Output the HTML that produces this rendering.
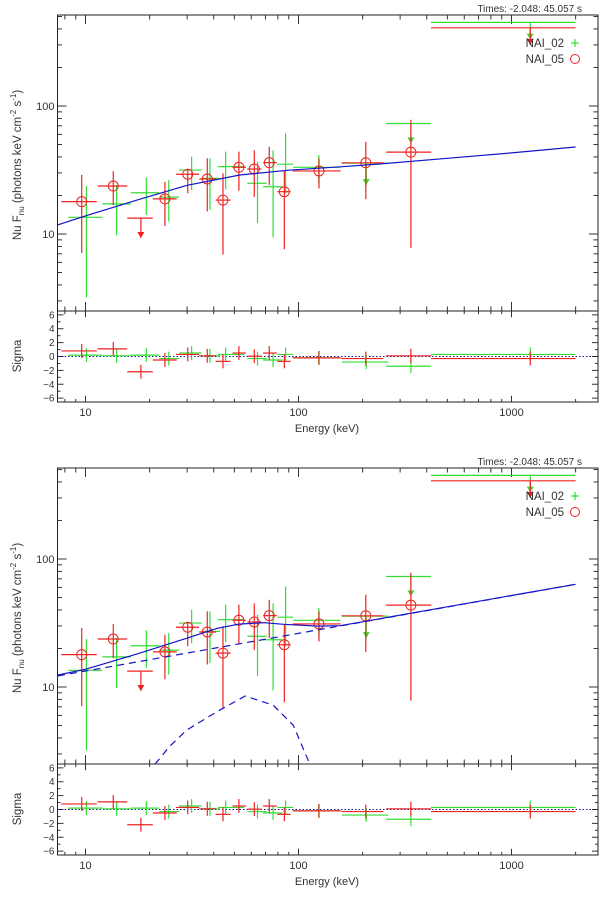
<!DOCTYPE html>
<html><head><meta charset="utf-8"><style>
body{margin:0;background:#fff;}
svg{display:block;font-family:"Liberation Sans",sans-serif;}
</style></head><body>
<svg id="chart" width="600" height="897" viewBox="0 0 600 897" xmlns="http://www.w3.org/2000/svg"></svg>
<script>
// ---- data (energies keV, fluxes photons keV cm^-2 s^-1) ----
const redE    = [9.6, 13.5, 23.6, 30.2, 37.3, 44.2, 52.5, 62, 72.9, 85.8, 124.8, 207, 337];
const redF    = [17.9, 23.7, 18.8, 29.3, 26.9, 18.4, 33.2, 32.2, 36.1, 21.4, 31.1, 36, 43.6];
const redFlo  = [7.1, 16.8, 11.5, 20.8, 15, 6.9, 21.8, 19.5, 24.1, 7.6, 22.7, 18.7, 7.8];
const redFhi  = [29, 31, 25.6, 32.2, 39, 29.8, 44, 45, 48, 31, 39, 52.6, 78];
const redElo  = [7.7, 11.4, 20.7, 26.6, 34.2, 40.8, 49, 57.5, 68.2, 79.5, 94, 159, 258];
const redEhi  = [11.3, 15.7, 26.8, 34.2, 41, 48, 56.7, 67, 79.1, 91.8, 158, 250, 420];
const redUL   = [[15.7, 20.7, 18.2, 13.3, 9.3], [419, 2000, 1225, 408, 300]];
const greenE   = [10.1, 14, 19.3, 24.6, 31.5, 38.4, 45.5, 64.2, 76, 87, 124.5];
const greenF   = [13.5, 17.2, 21, 19.4, 31.6, 27.2, 33.6, 24.9, 23.4, 35.1, 33.2];
const greenFlo = [3.2, 9.8, 14.1, 12.5, 22, 15.4, 22.3, 12.2, 9.4, 20.8, 24.9];
const greenFhi = [23.7, 24.2, 27.7, 26.4, 40.2, 39, 44, 36.7, 45, 61, 41.5];
const greenElo = [8.3, 12, 16.3, 22.2, 27.5, 35.1, 41.9, 57.5, 68.2, 79.5, 94.5];
const greenEhi = [12, 16.3, 22.2, 27.5, 35.1, 42.8, 55.6, 71, 84, 94.5, 157];
const greenUL  = [[160, 264, 208, 35.8, 24.1], [258, 420, 337, 73, 51], [419, 2000, 1225, 450, 330]];
const redRes   = [0.8, 1.1, -0.5, 0.3, 0.1, -0.7, 0.5, 0.05, 0.5, -0.7, -0.2, -0.3, 0.1];
const redResUL = [[15.7, 20.7, 18.2, -2.2], [419, 2000, 1225, -0.3]];
const greenRes = [0.2, 0.1, 0.2, -0.3, 0.5, 0.1, 0.3, -0.3, -0.5, 0.3, -0.2];
const greenResUL = [[160, 264, 208, -0.8], [258, 420, 337, -1.4], [419, 2000, 1225, 0.3]];
// model 1 (top): band-like curve samples
const model1E = [7.43, 10.2, 18, 30, 53, 90, 157, 240, 500, 1000, 2000];
const model1F = [11.8, 14, 18.7, 24, 28.9, 31.5, 33.5, 35.2, 39, 43, 47.8];
// model 2 (bottom): total, power law, blackbody bump
const model2E = [7.43, 10.1, 18, 29.8, 41.3, 52.5, 69, 85, 124, 157, 240, 337, 1000, 2000];
const model2F = [12.4, 13.8, 18.4, 24, 28.7, 31, 31.8, 30.9, 29.9, 30.1, 34.1, 37.7, 51.9, 63.4];
const plE = [7.43, 2000];
const plF = [12.2, 63.4];
const bbE = [21.2, 24.7, 29.8, 41.3, 56.2, 76.2, 94.6, 113];
const bbF = [2.5, 3.4, 4.6, 6.4, 8.5, 7.2, 5.0, 2.5];
const xTickLabels = ["10", "100", "1000"];
const yTickLabels = ["10", "100"];
const sigmaTicks = [6, 4, 2, 0, -2, -4, -6];

const NS = "http://www.w3.org/2000/svg";
const svg = document.getElementById("chart");
const L = 57.5, R = 598;
function xS(E){ return 85.5 + 213*(Math.log10(E)-1); }
function yS(F, dy){ return 234 - 128*(Math.log10(F)-1) + dy; }
function sS(s, dy){ return 356.5 - 6.94*s + dy; }
function mk(tag, attrs, parent){
  const el = document.createElementNS(NS, tag);
  for (const k in attrs) el.setAttribute(k, attrs[k]);
  (parent || svg).appendChild(el);
  return el;
}
function line(x1,y1,x2,y2,col,w,parent){ return mk("line",{x1:x1,y1:y1,x2:x2,y2:y2,stroke:col,"stroke-width":w||1},parent); }

const RED = "#e22", GREEN = "#3d3", BLUE = "#1515c8";

function panel(dy, idx, model){
  const g = mk("g", {});
  
  
  const top = 15+dy, mid = 311+dy, bot = 402+dy;
  const cid = "clip"+idx, cid2 = "clipr"+idx;
  const defs = mk("defs", {}, g);
  const cp = mk("clipPath", {id:cid}, defs);
  mk("rect", {x:L, y:top, width:R-L, height:mid-top}, cp);
  const cp2 = mk("clipPath", {id:cid2}, defs);
  mk("rect", {x:L, y:mid, width:R-L, height:bot-mid}, cp2);

  const t = mk("text", {x:582, y:12+dy, "font-size":10, fill:"#333", "text-anchor":"end"}, g);
  t.textContent = "Times:  -2.048: 45.057  s";
  
  

  const f1 = mk("rect", {x:L, y:top, width:R-L, height:mid-top, fill:"none", stroke:"#222", "stroke-width":1}, g);
  
  
  const f2 = mk("rect", {x:L, y:mid, width:R-L, height:bot-mid, fill:"none", stroke:"#222", "stroke-width":1}, g);
  
  

  const xt = mk("g", {}, g);
  
  
  for (let d = 1; d <= 1000; d *= 10){
    for (let m = 1; m <= 9; m++){
      const E = d*m, x = xS(E);
      if (x < L || x > R) continue;
      const len = m === 1 ? 9 : 4.5;
      line(x, top, x, top+len, "#333", 1, xt);
      line(x, mid, x, mid-len, "#333", 1, xt);
      line(x, mid, x, mid+len*0.7, "#333", 1, xt);
      line(x, bot, x, bot-len*0.7, "#333", 1, xt);
    }
  }
  xTickLabels.forEach(function(s){
    const tx = mk("text", {x:xS(+s), y:bot+14, "font-size":11, fill:"#333", "text-anchor":"middle"}, g);
    tx.textContent = s;
    
    
  });
  const xl = mk("text", {x:327, y:bot+30, "font-size":11, fill:"#333", "text-anchor":"middle"}, g);
  xl.textContent = "Energy (keV)";
  
  

  const yt = mk("g", {}, g);
  
  
  for (let d = 1; d <= 100; d *= 10){
    for (let m = 1; m <= 9; m++){
      const y = yS(d*m, dy);
      if (y < top || y > mid) continue;
      const len = m === 1 ? 9 : 4.5;
      line(L, y, L+len, y, "#333", 1, yt);
      line(R, y, R-len, y, "#333", 1, yt);
    }
  }
  yTickLabels.forEach(function(s){
    const ty = mk("text", {x:L-3, y:yS(+s, dy)+4, "font-size":11, fill:"#333", "text-anchor":"end"}, g);
    ty.textContent = s;
    
    
  });
  const yl = mk("text", {x:0, y:0, "font-size":11.5, fill:"#333", "text-anchor":"middle", transform:"translate(21," + (165+dy) + ") rotate(-90)"}, g);
  
  
  yl.innerHTML = 'Nu F<tspan font-size="8" dy="3">nu</tspan><tspan dy="-3">  (photons keV cm</tspan><tspan font-size="8" dy="-5">-2</tspan><tspan dy="5"> s</tspan><tspan font-size="8" dy="-5">-1</tspan><tspan dy="5">)</tspan>';

  for (let s = -6; s <= 6; s++){
    const y = sS(s, dy), len = s % 2 === 0 ? 6 : 3;
    line(L, y, L+len, y, "#333", 1, g);
    line(R, y, R-len, y, "#333", 1, g);
  }
  sigmaTicks.forEach(function(s){
    const ts = mk("text", {x:L-3, y:sS(s, dy)+3.5, "font-size":10, fill:"#333", "text-anchor":"end"}, g);
    ts.textContent = s < 0 ? "\u2212" + (-s) : String(s);
    
    
  });
  const sl = mk("text", {x:0, y:0, "font-size":11.5, fill:"#333", "text-anchor":"middle", transform:"translate(21," + (356+dy) + ") rotate(-90)"}, g);
  sl.textContent = "Sigma";
  
  

  const zl = line(L, sS(0,dy), R, sS(0,dy), "#1a1a8a", 1, g);
  zl.setAttribute("stroke-dasharray", "1.5,2");
  
  

  const dg = mk("g", {"clip-path":"url(#"+cid+")"}, g);
  
  
  function arrow(x, y, col, parent){
    mk("polygon", {points:(x-3.5)+","+(y-6)+" "+(x+3.5)+","+(y-6)+" "+x+","+y, fill:col}, parent);
  }
  function ul(u, col, name){
    const ug = mk("g", {}, dg);
    
    
    line(xS(u[0]), yS(u[3],dy), xS(u[1]), yS(u[3],dy), col, 1.2, ug);
    line(xS(u[2]), yS(u[3],dy), xS(u[2]), yS(u[4],dy), col, 1.2, ug);
    arrow(xS(u[2]), yS(u[4],dy), col, ug);
  }
  greenE.forEach(function(E, i){
    const pg = mk("g", {}, dg);
    
    
    line(xS(greenElo[i]), yS(greenF[i],dy), xS(greenEhi[i]), yS(greenF[i],dy), GREEN, 1.2, pg);
    line(xS(E), yS(greenFlo[i],dy), xS(E), yS(greenFhi[i],dy), GREEN, 1.2, pg);
  });
  greenUL.forEach(function(u){ ul(u, GREEN, 'nai02-upper-limit'); });
  redE.forEach(function(E, i){
    const pg = mk("g", {}, dg);
    
    
    line(xS(redElo[i]), yS(redF[i],dy), xS(redEhi[i]), yS(redF[i],dy), RED, 1.2, pg);
    line(xS(E), yS(redFlo[i],dy), xS(E), yS(redFhi[i],dy), RED, 1.2, pg);
    mk("circle", {cx:xS(E), cy:yS(redF[i],dy), r:5, fill:"none", stroke:RED, "stroke-width":1}, pg);
  });
  redUL.forEach(function(u){ ul(u, RED, 'nai05-upper-limit'); });

  function curve(Es, Fs, dash, name){
    const pts = Es.map(function(E,i){ return xS(E).toFixed(1)+","+yS(Fs[i],dy).toFixed(1); }).join(" ");
    const p = mk("polyline", {points:pts, fill:"none", stroke:BLUE, "stroke-width":1.2, "clip-path":"url(#"+cid+")"}, g);
    if (dash) p.setAttribute("stroke-dasharray", "7,5");
    
    
  }
  if (model === 1){
    curve(model1E, model1F, false, 'model-curve');
  } else {
    curve(plE, plF, true, 'power-law-component');
    curve(bbE, bbF, true, 'blackbody-component');
    curve(model2E, model2F, false, 'total-model-curve');
  }

  const rg = mk("g", {"clip-path":"url(#"+cid2+")"}, g);
  
  
  function res(lo, hi, E, s, col){
    line(xS(lo), sS(s,dy), xS(hi), sS(s,dy), col, 1.2, rg);
    line(xS(E), sS(s-1,dy), xS(E), sS(s+1,dy), col, 1.2, rg);
  }
  greenE.forEach(function(E,i){ res(greenElo[i], greenEhi[i], E, greenRes[i], GREEN); });
  greenResUL.forEach(function(u){ res(u[0], u[1], u[2], u[3], GREEN); });
  redE.forEach(function(E,i){ res(redElo[i], redEhi[i], E, redRes[i], RED); });
  redResUL.forEach(function(u){ res(u[0], u[1], u[2], u[3], RED); });

  const lg = mk("g", {}, g);
  
  
  const l1 = mk("text", {x:564, y:47+dy, "font-size":11.5, fill:"#333", "text-anchor":"end"}, lg);
  l1.textContent = "NAI_02";
  
  
  line(571, 43+dy, 579, 43+dy, GREEN, 1.2, lg);
  line(575, 39+dy, 575, 47+dy, GREEN, 1.2, lg);
  const l2 = mk("text", {x:564, y:63+dy, "font-size":11.5, fill:"#333", "text-anchor":"end"}, lg);
  l2.textContent = "NAI_05";
  
  
  mk("circle", {cx:575, cy:59+dy, r:4.5, fill:"none", stroke:RED, "stroke-width":1}, lg);
}
panel(0, 1, 1);
panel(453, 2, 2);
</script>
</body></html>
